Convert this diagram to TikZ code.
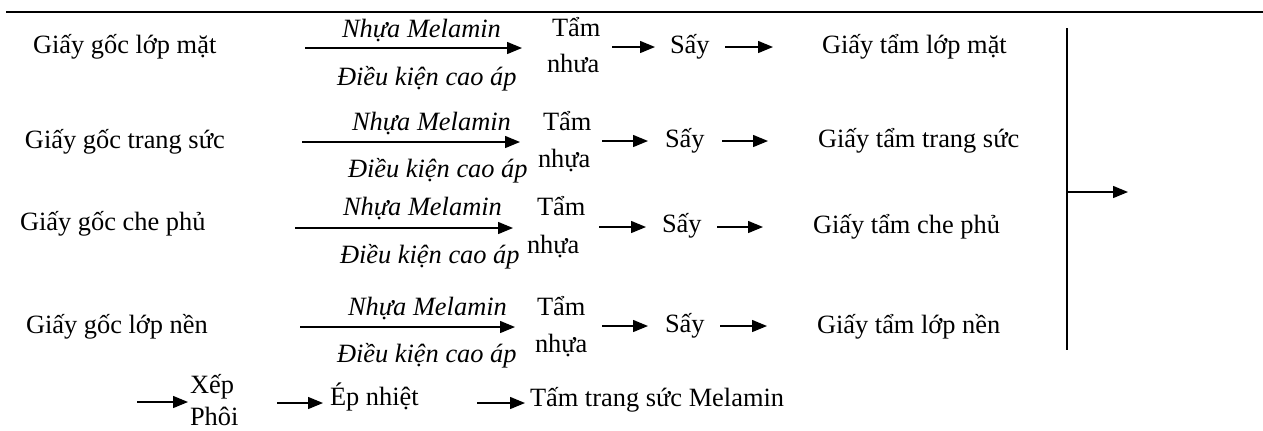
\documentclass[tikz,border=0pt]{standalone}
\usepackage{fontspec}
\setmainfont{Liberation Serif}
\usetikzlibrary{arrows.meta}
\tikzset{
  txt/.style={inner sep=0pt, outer sep=0pt, anchor=base west, font=\fontsize{13.2pt}{16pt}\selectfont},
  itx/.style={txt, font=\fontsize{13.2pt}{16pt}\selectfont\itshape},
  arr/.style={-{Triangle[length=7.5pt,width=6pt]}, line width=0.7pt},
}
\begin{document}
\begin{tikzpicture}[x=0.5pt,y=-0.5pt]
\useasboundingbox (0,0) rectangle (1263,430);
% top rule
\coordinate (rl) at (6,12);
\coordinate (rr) at (1263,12);
\draw[line width=1pt] (rl) -- (rr);

% Row 1
\node[txt] (s1) at (33,53) {Giấy gốc lớp mặt};
\node[itx] (n1) at (342,37) {Nhựa Melamin};
\node[itx] (d1) at (337,85) {Điều kiện cao áp};
\node[txt] (t1) at (552,36) {Tẩm};
\node[txt] (h1) at (547,72) {nhưa};
\node[txt] (y1) at (670,53) {Sấy};
\node[txt] (g1) at (822,53) {Giấy tẩm lớp mặt};
\coordinate (a1s) at (305,48); \coordinate (a1e) at (522,48);
\coordinate (b1s) at (612,47); \coordinate (b1e) at (655,47);
\coordinate (c1s) at (725,47); \coordinate (c1e) at (773,47);
\draw[arr] (a1s) -- (a1e);
\draw[arr] (b1s) -- (b1e);
\draw[arr] (c1s) -- (c1e);

% Row 2
\node[txt] (s2) at (25,148) {Giấy gốc trang sức};
\node[itx] (n2) at (352,130) {Nhựa Melamin};
\node[itx] (d2) at (348,177) {Điều kiện cao áp};
\node[txt] (t2) at (543,130) {Tẩm};
\node[txt] (h2) at (538,167) {nhựa};
\node[txt] (y2) at (665,147) {Sấy};
\node[txt] (g2) at (818,147) {Giấy tẩm trang sức};
\coordinate (a2s) at (302,142); \coordinate (a2e) at (520,142);
\coordinate (b2s) at (602,141); \coordinate (b2e) at (648,141);
\coordinate (c2s) at (722,141); \coordinate (c2e) at (768,141);
\draw[arr] (a2s) -- (a2e);
\draw[arr] (b2s) -- (b2e);
\draw[arr] (c2s) -- (c2e);

% Row 3
\node[txt] (s3) at (20,230) {Giấy gốc che phủ};
\node[itx] (n3) at (343,215) {Nhựa Melamin};
\node[itx] (d3) at (340,263) {Điều kiện cao áp};
\node[txt] (t3) at (537,215) {Tẩm};
\node[txt] (h3) at (527,253) {nhựa};
\node[txt] (y3) at (662,232) {Sấy};
\node[txt] (g3) at (813,233) {Giấy tẩm che phủ};
\coordinate (a3s) at (295,228); \coordinate (a3e) at (513,228);
\coordinate (b3s) at (599,227); \coordinate (b3e) at (646,227);
\coordinate (c3s) at (717,227); \coordinate (c3e) at (763,227);
\draw[arr] (a3s) -- (a3e);
\draw[arr] (b3s) -- (b3e);
\draw[arr] (c3s) -- (c3e);

% Row 4
\node[txt] (s4) at (26,333) {Giấy gốc lớp nền};
\node[itx] (n4) at (348,315) {Nhựa Melamin};
\node[itx] (d4) at (337,362) {Điều kiện cao áp};
\node[txt] (t4) at (537,315) {Tẩm};
\node[txt] (h4) at (535,352) {nhựa};
\node[txt] (y4) at (665,332) {Sấy};
\node[txt] (g4) at (817,333) {Giấy tẩm lớp nền};
\coordinate (a4s) at (300,327); \coordinate (a4e) at (515,327);
\coordinate (b4s) at (602,326); \coordinate (b4e) at (648,326);
\coordinate (c4s) at (720,326); \coordinate (c4e) at (767,326);
\draw[arr] (a4s) -- (a4e);
\draw[arr] (b4s) -- (b4e);
\draw[arr] (c4s) -- (c4e);

% Collector
\coordinate (vt) at (1067,28);
\coordinate (vb) at (1067,350);
\coordinate (vm) at (1067,192);
\coordinate (ve) at (1128,192);
\draw[line width=0.75pt] (vt) -- (vb);
\draw[arr] (vm) -- (ve);

% Bottom row
\node[txt] (xep) at (190,393) {Xếp};
\node[txt] (phoi) at (190,425) {Phôi};
\node[txt] (ep) at (330,405) {Ép nhiệt};
\node[txt] (tam) at (530,406) {Tấm trang sức Melamin};
\coordinate (e1s) at (137,402); \coordinate (e1e) at (188,402);
\coordinate (e2s) at (277,403); \coordinate (e2e) at (323,403);
\coordinate (e3s) at (477,403); \coordinate (e3e) at (525,403);
\draw[arr] (e1s) -- (e1e);
\draw[arr] (e2s) -- (e2e);
\draw[arr] (e3s) -- (e3e);
\end{tikzpicture}
\end{document}
